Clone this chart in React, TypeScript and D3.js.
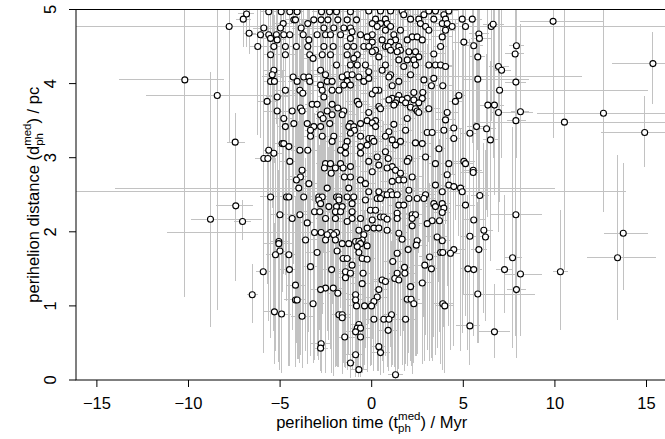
import { useEffect, useRef } from "react";
import * as d3 from "d3";

// perihelion time / Myr, perihelion distance / pc
// dense core: [t, d, t half-width, d below, d above]
const coreStars = [
  [-5.62, 4.97, 0.5, 1.2, 0.8], [-4.94, 4.97, 0.4, 0.9, 0.7], [-4.47, 4.97, 0.6, 1.6, 0.9], [-4.07, 4.97, 0.3, 1.1, 0.6],
  [-2.74, 4.97, 0.5, 2.0, 1.0], [-2.3, 4.97, 0.7, 1.4, 0.8], [-1.92, 4.97, 0.4, 2.3, 0.9], [-1.16, 4.97, 0.6, 1.7, 1.1],
  [-4.25, 4.86, 0.5, 1.5, 1.0], [-4.16, 4.86, 0.4, 2.1, 0.8], [-3.16, 4.86, 0.8, 1.3, 1.2], [-2.76, 4.86, 0.3, 1.8, 0.9],
  [-2.39, 4.86, 0.5, 2.4, 1.0], [-1.85, 4.86, 0.6, 1.2, 0.7], [-1.34, 4.86, 0.4, 1.9, 1.3], [-0.83, 4.86, 0.7, 1.5, 0.8],
  [-4.83, 4.81, 0.5, 1.7, 0.9], [-3.49, 4.81, 0.4, 2.2, 1.0], [-5.89, 4.75, 0.6, 1.1, 0.8], [-4.98, 4.75, 0.3, 1.6, 0.9],
  [-3.85, 4.75, 0.5, 2.5, 1.2], [-2.61, 4.75, 0.9, 1.4, 0.7], [-2.07, 4.75, 0.4, 2.0, 1.1], [-1.52, 4.75, 0.5, 1.3, 0.9],
  [-1.16, 4.75, 0.6, 2.2, 1.0], [-1.07, 4.7, 0.4, 1.8, 0.8], [-6.07, 4.66, 0.5, 1.4, 0.9], [-5.62, 4.66, 0.4, 2.1, 1.0],
  [-5.2, 4.66, 0.7, 1.2, 0.8], [-4.8, 4.66, 0.5, 1.9, 1.1], [-4.47, 4.66, 0.3, 2.4, 0.9], [-3.74, 4.66, 0.6, 1.5, 1.2],
  [-2.98, 4.66, 0.4, 2.0, 0.8], [-2.52, 4.66, 0.5, 1.1, 1.0], [-2.25, 4.66, 0.8, 2.6, 0.9], [-1.7, 4.66, 0.4, 1.6, 1.3],
  [-0.61, 4.66, 0.5, 2.3, 0.8], [-5.52, 4.61, 0.6, 1.3, 1.0], [-1.16, 4.61, 0.4, 1.8, 0.9], [-5.16, 4.59, 0.5, 2.2, 1.1],
  [-3.43, 4.59, 0.3, 1.5, 0.8], [-6.22, 4.5, 0.5, 1.2, 0.9], [-5.34, 4.5, 0.6, 2.0, 1.0], [-4.71, 4.5, 0.4, 1.7, 1.2],
  [-4.11, 4.5, 0.7, 2.4, 0.8], [-3.49, 4.5, 0.5, 1.3, 1.1], [-2.61, 4.5, 0.4, 2.1, 0.9], [-2.1, 4.5, 0.6, 1.6, 1.0],
  [-1.34, 4.5, 0.3, 2.5, 1.3], [-0.98, 4.5, 0.5, 1.4, 0.8], [-0.43, 4.5, 0.8, 1.9, 1.0], [-5.52, 4.39, 0.4, 1.8, 0.9],
  [-4.71, 4.39, 0.5, 1.1, 1.1], [-3.38, 4.39, 0.6, 2.3, 0.8], [-2.7, 4.39, 0.4, 1.5, 1.2], [-2.25, 4.39, 0.5, 2.0, 1.0],
  [-1.34, 4.39, 0.7, 1.7, 0.9], [-0.79, 4.39, 0.4, 2.2, 1.1], [-3.2, 4.34, 0.5, 1.4, 0.8], [-0.98, 4.34, 0.6, 1.9, 1.0],
  [-1.92, 4.25, 0.4, 1.6, 1.2], [-1.16, 4.25, 0.5, 2.4, 0.9], [-0.79, 4.25, 0.3, 1.3, 1.0], [-5.34, 4.18, 0.6, 2.0, 1.1],
  [-2.79, 4.18, 0.5, 1.5, 0.8], [-5.43, 4.12, 0.4, 1.8, 1.2], [-2.52, 4.12, 0.7, 2.2, 0.9], [-1.34, 4.12, 0.5, 1.2, 1.0],
  [-1.07, 4.12, 0.4, 2.5, 1.3], [-4.29, 4.09, 0.6, 1.6, 0.9], [-3.71, 4.09, 0.5, 2.0, 1.1], [-3.43, 4.09, 0.3, 1.4, 0.8],
  [-1.61, 4.09, 0.5, 2.3, 1.0], [-5.52, 4.03, 0.4, 1.7, 1.2], [-5.31, 4.03, 0.6, 1.1, 0.9], [-4.07, 4.03, 0.5, 2.4, 1.0],
  [-3.38, 4.03, 0.4, 1.9, 1.1], [-2.43, 4.03, 0.8, 1.5, 0.8], [-2.16, 4.03, 0.5, 2.1, 1.2], [-1.34, 4.03, 0.4, 1.3, 0.9],
  [-0.43, 4.03, 0.6, 2.6, 1.0], [-2.79, 3.98, 0.5, 1.8, 1.1], [-1.52, 3.98, 0.3, 2.2, 0.8], [-1.16, 3.98, 0.5, 1.4, 1.3],
  [-4.71, 3.91, 0.6, 2.0, 0.9], [-3.92, 3.91, 0.4, 1.6, 1.0], [-2.7, 3.91, 0.5, 2.5, 1.2], [-2.16, 3.91, 0.7, 1.2, 0.8],
  [-1.79, 3.91, 0.4, 1.9, 1.1], [-3.76, 3.87, 0.5, 2.3, 1.0], [-5.16, 3.82, 0.6, 1.5, 0.9], [-2.61, 3.82, 0.4, 2.1, 1.2],
  [-5.71, 3.76, 0.5, 1.8, 1.0], [-0.79, 3.76, 0.6, 2.4, 0.8], [-3.25, 3.72, 0.4, 1.3, 1.1], [-2.98, 3.72, 0.5, 2.0, 0.9],
  [-2.16, 3.72, 0.3, 1.7, 1.3], [-0.7, 3.72, 0.6, 2.2, 1.0], [-3.89, 3.67, 0.5, 1.4, 0.8], [-1.85, 3.67, 0.4, 2.6, 1.2],
  [-5.16, 3.63, 0.7, 1.9, 0.9], [-4.34, 3.63, 0.5, 1.2, 1.0], [-3.8, 3.63, 0.4, 2.3, 1.1], [-2.43, 3.63, 0.6, 1.6, 0.8],
  [-1.52, 3.63, 0.5, 2.0, 1.3], [-2.79, 3.58, 0.4, 1.8, 0.9], [-2.16, 3.58, 0.5, 2.5, 1.0], [-1.61, 3.58, 0.8, 1.3, 1.1],
  [-4.8, 3.53, 0.5, 2.1, 0.8], [-2.65, 3.53, 0.4, 1.5, 1.2], [-4.25, 3.46, 0.6, 1.9, 1.0], [-3.52, 3.46, 0.5, 2.4, 0.9],
  [-2.29, 3.46, 0.4, 1.2, 1.1], [-1.16, 3.46, 0.5, 2.2, 0.8], [-0.61, 3.46, 0.7, 1.7, 1.3], [-4.71, 3.42, 0.4, 2.0, 1.0],
  [-3.16, 3.42, 0.5, 1.4, 0.9], [-2.79, 3.42, 0.6, 2.6, 1.1], [-1.25, 3.42, 0.4, 1.8, 1.2], [-0.98, 3.42, 0.5, 1.1, 0.8],
  [-3.34, 3.37, 0.3, 2.3, 1.0], [-0.94, 3.37, 0.6, 1.6, 1.1], [-1.16, 3.33, 0.5, 2.1, 0.9], [-3.34, 3.29, 0.4, 1.5, 1.3],
  [-2.7, 3.29, 0.6, 2.4, 1.0], [-2.07, 3.29, 0.5, 1.9, 0.8], [-0.61, 3.29, 0.4, 1.3, 1.2], [-2.16, 3.22, 0.5, 2.2, 1.1],
  [-1.34, 3.22, 0.7, 1.7, 0.9], [-4.89, 3.19, 0.4, 2.0, 1.0], [-4.8, 3.19, 0.5, 1.4, 1.2], [-4.52, 3.15, 0.6, 2.5, 0.8],
  [-1.43, 3.15, 0.4, 1.8, 1.1], [-0.61, 3.15, 0.5, 1.2, 1.0], [-5.62, 3.1, 0.3, 2.3, 0.9], [-3.92, 3.1, 0.5, 1.6, 1.3],
  [-3.49, 3.1, 0.6, 2.1, 1.0], [-1.7, 3.1, 0.4, 1.5, 1.2], [-5.34, 3.06, 0.5, 2.4, 0.8], [-1.43, 3.06, 0.4, 1.9, 1.1],
  [-0.61, 3.06, 0.6, 1.3, 1.0], [-5.89, 2.99, 0.5, 2.2, 1.2], [-5.67, 2.99, 0.4, 1.7, 0.9], [-4.47, 2.95, 0.6, 2.0, 1.1],
  [-2.52, 2.92, 0.5, 1.4, 1.0], [-2.25, 2.92, 0.4, 2.5, 0.8], [-1.7, 2.92, 0.7, 1.8, 1.3], [-1.16, 2.88, 0.5, 2.1, 0.9],
  [-2.58, 2.86, 0.4, 1.6, 1.2], [-1.98, 2.86, 0.5, 2.3, 1.0], [-1.56, 2.86, 0.6, 1.2, 1.1], [-3.8, 2.83, 0.4, 2.0, 0.8],
  [-2.21, 2.79, 0.5, 1.5, 1.2], [-3.89, 2.74, 0.6, 2.4, 1.0], [-1.49, 2.74, 0.4, 1.9, 0.9], [-1.16, 2.74, 0.5, 1.3, 1.3],
  [-4.11, 2.7, 0.5, 2.2, 1.1], [-0.61, 2.7, 0.4, 1.7, 0.8], [-3.43, 2.65, 0.6, 2.0, 1.0], [-0.34, 2.65, 0.5, 1.4, 1.2],
  [-3.98, 2.59, 0.4, 2.3, 0.9], [-1.25, 2.59, 0.5, 1.8, 1.1],
  [-5.52, 2.47, 0.6, 1.9, 1.2], [-4.65, 2.47, 0.4, 1.4, 1.0], [-4.52, 2.47, 0.5, 2.1, 0.8], [-3.71, 2.47, 0.7, 1.6, 1.3],
  [-2.89, 2.47, 0.4, 2.2, 1.1], [-2.7, 2.47, 0.5, 1.3, 0.9], [-1.92, 2.47, 0.6, 2.0, 1.2], [-1.79, 2.47, 0.4, 1.7, 1.0],
  [-1.34, 2.47, 0.5, 2.3, 0.8], [-0.98, 2.47, 0.3, 1.5, 1.1], [-2.89, 2.43, 0.5, 1.9, 1.3], [-1.79, 2.43, 0.6, 2.2, 0.9],
  [-2.79, 2.38, 0.4, 1.4, 1.0], [-1.07, 2.38, 0.5, 2.0, 1.2], [-2.34, 2.34, 0.6, 1.8, 0.8], [-1.92, 2.34, 0.4, 2.1, 1.1],
  [-1.61, 2.34, 0.5, 1.5, 1.0], [-3.12, 2.27, 0.7, 2.0, 1.3], [-2.83, 2.27, 0.4, 1.6, 0.9], [-1.98, 2.27, 0.5, 2.1, 1.2],
  [-1.7, 2.27, 0.6, 1.3, 1.0], [-1.07, 2.27, 0.4, 1.9, 1.1], [-5.01, 2.23, 0.5, 1.7, 1.4], [-3.92, 2.23, 0.6, 2.0, 0.9],
  [-4.34, 2.18, 0.4, 1.5, 1.2], [-2.52, 2.18, 0.5, 2.0, 1.0], [-1.98, 2.18, 0.7, 1.8, 1.3], [-1.07, 2.18, 0.4, 1.4, 0.8],
  [-0.61, 2.18, 0.5, 2.0, 1.1], [-1.34, 2.14, 0.6, 1.6, 1.2], [-3.52, 2.12, 0.4, 1.9, 1.0], [-0.7, 2.02, 0.5, 1.5, 1.3],
  [-2.76, 1.99, 0.6, 1.7, 1.1], [-2.25, 1.99, 0.4, 1.4, 0.9], [-1.92, 1.99, 0.5, 1.8, 1.2], [-2.43, 1.96, 0.7, 1.3, 1.0],
  [-2.07, 1.96, 0.4, 1.9, 1.4], [-0.43, 1.96, 0.5, 1.6, 0.8], [-3.61, 1.89, 0.6, 1.5, 1.1], [-2.52, 1.89, 0.4, 1.8, 1.3],
  [-1.98, 1.89, 0.5, 1.2, 1.0], [-0.52, 1.89, 0.3, 1.7, 1.2], [-5.07, 1.87, 0.5, 1.4, 0.9], [-0.88, 1.87, 0.6, 1.8, 1.1],
  [-0.7, 1.87, 0.4, 1.3, 1.4], [-5.07, 1.84, 0.8, 1.6, 1.0], [-1.61, 1.84, 0.5, 1.7, 1.2], [-1.25, 1.84, 0.4, 1.5, 0.9],
  [-0.61, 1.84, 0.6, 1.8, 1.1], [-0.79, 1.8, 0.5, 1.4, 1.3], [-5.01, 1.74, 0.4, 1.6, 1.0], [-1.89, 1.74, 0.5, 1.5, 1.2],
  [-2.98, 1.72, 0.6, 1.4, 0.9], [-0.7, 1.72, 0.4, 1.6, 1.1], [-5.25, 1.69, 0.5, 1.3, 1.3], [-4.52, 1.69, 0.6, 1.5, 1.0],
  [-1.56, 1.64, 0.4, 1.4, 1.2], [-1.34, 1.64, 0.5, 1.5, 0.9], [-0.52, 1.64, 0.7, 1.3, 1.1], [-1.07, 1.55, 0.5, 1.4, 1.0],
  [-3.34, 1.53, 0.4, 1.2, 1.3], [-4.49, 1.49, 0.6, 1.3, 0.9], [-2.19, 1.49, 0.5, 1.4, 1.2], [-5.92, 1.46, 0.4, 1.1, 1.0],
  [-1.43, 1.46, 0.5, 1.3, 1.1], [-1.16, 1.44, 0.6, 1.2, 0.9], [-0.47, 1.44, 0.4, 1.3, 1.3], [-1.43, 1.38, 0.5, 1.1, 1.0],
  [-0.52, 1.3, 0.6, 1.2, 1.1], [-4.16, 1.28, 0.5, 1.0, 1.2], [-2.52, 1.24, 0.4, 1.1, 0.9], [-2.1, 1.24, 0.5, 1.0, 1.3],
  [-2.79, 1.22, 0.6, 1.1, 1.0], [-1.85, 1.17, 0.5, 1.0, 1.2], [-0.88, 1.15, 0.4, 1.0, 1.1], [-4.16, 1.08, 0.6, 0.9, 1.0],
  [-4.07, 1.08, 0.4, 0.8, 1.3], [-0.88, 1.08, 0.5, 0.9, 1.2], [-3.2, 1.03, 0.6, 0.8, 1.0], [-0.83, 1.0, 0.5, 0.9, 1.1],
  [-0.39, 1.0, 0.4, 0.8, 1.3], [-5.31, 0.92, 0.6, 0.7, 1.2], [-4.92, 0.89, 0.5, 0.8, 1.0], [-1.79, 0.88, 0.4, 0.7, 1.2],
  [-1.61, 0.88, 0.5, 0.8, 1.0], [-3.8, 0.86, 0.6, 0.7, 1.1], [-1.61, 0.84, 0.4, 0.7, 1.3], [-0.7, 0.75, 0.5, 0.6, 1.2],
  [-0.79, 0.7, 0.4, 0.6, 1.0], [-0.61, 0.7, 0.6, 0.5, 1.3], [-0.88, 0.65, 0.5, 0.5, 1.1], [-1.47, 0.58, 0.4, 0.4, 1.2],
  [-0.61, 0.58, 0.5, 0.5, 1.0], [-2.76, 0.49, 0.6, 0.4, 1.1], [-2.79, 0.43, 0.4, 0.3, 1.3], [-0.88, 0.34, 0.5, 0.3, 1.0],
  [-1.16, 0.23, 0.4, 0.2, 1.1], [-0.7, 0.14, 0.5, 0.1, 1.0],
  [-0.16, 4.98, 0.5, 1.6, 0.9], [0.48, 4.98, 0.4, 2.2, 1.0], [1.03, 4.98, 0.6, 1.3, 0.8], [1.66, 4.98, 0.5, 1.9, 1.1],
  [3.12, 4.98, 0.4, 2.4, 0.9], [3.48, 4.98, 0.7, 1.5, 1.0], [4.21, 4.98, 0.5, 2.0, 1.2], [1.75, 4.93, 0.4, 1.7, 0.8],
  [2.85, 4.93, 0.6, 2.3, 1.0], [3.94, 4.93, 0.5, 1.2, 0.9], [0.21, 4.87, 0.4, 2.1, 1.1], [0.75, 4.87, 0.5, 1.5, 1.0],
  [2.12, 4.87, 0.6, 2.5, 0.8], [2.57, 4.87, 0.4, 1.8, 1.2], [3.39, 4.87, 0.5, 1.4, 0.9], [4.03, 4.87, 0.8, 2.2, 1.0],
  [4.94, 4.87, 0.5, 1.6, 1.1], [0.03, 4.81, 0.4, 2.0, 0.9], [0.48, 4.81, 0.6, 1.3, 1.0], [0.84, 4.81, 0.5, 2.4, 1.2],
  [2.66, 4.81, 0.4, 1.7, 0.8], [3.85, 4.81, 0.5, 2.1, 1.0], [4.12, 4.81, 0.6, 1.4, 1.1], [0.3, 4.77, 0.5, 1.9, 0.9],
  [1.03, 4.77, 0.4, 2.3, 1.2], [2.94, 4.77, 0.7, 1.5, 1.0], [4.39, 4.77, 0.5, 2.0, 0.8], [5.12, 4.77, 0.4, 1.6, 1.1],
  [0.75, 4.72, 0.5, 2.2, 1.0], [1.57, 4.72, 0.6, 1.4, 0.9], [3.12, 4.72, 0.4, 1.8, 1.2], [4.03, 4.72, 0.5, 2.5, 1.0],
  [0.03, 4.66, 0.6, 1.7, 0.8], [1.21, 4.66, 0.4, 2.1, 1.1], [-0.25, 4.63, 0.5, 1.3, 1.0], [2.21, 4.63, 0.5, 2.4, 0.9],
  [2.48, 4.63, 0.4, 1.6, 1.2], [3.85, 4.63, 0.6, 2.0, 1.0], [0.57, 4.59, 0.5, 1.5, 0.8], [1.3, 4.59, 0.4, 2.2, 1.1],
  [1.94, 4.59, 0.7, 1.9, 1.0], [2.76, 4.59, 0.5, 1.2, 0.9], [0.03, 4.56, 0.4, 2.3, 1.2], [1.03, 4.56, 0.5, 1.7, 1.0],
  [5.03, 4.56, 0.6, 2.0, 0.8], [-0.16, 4.5, 0.5, 1.4, 1.1], [0.75, 4.5, 0.4, 2.1, 1.0], [0.9, 4.5, 0.6, 1.8, 0.9],
  [1.48, 4.5, 0.5, 2.5, 1.2], [3.76, 4.5, 0.4, 1.3, 1.0], [0.21, 4.45, 0.5, 2.0, 0.8], [1.03, 4.45, 0.6, 1.6, 1.1],
  [1.57, 4.45, 0.4, 2.3, 1.0], [0.03, 4.43, 0.5, 1.5, 0.9], [1.39, 4.43, 0.7, 2.1, 1.2], [2.03, 4.43, 0.4, 1.8, 1.0],
  [2.39, 4.43, 0.5, 1.2, 0.8], [3.39, 4.4, 0.6, 2.4, 1.1], [0.39, 4.36, 0.5, 1.7, 1.0], [2.57, 4.36, 0.4, 2.0, 0.9],
  [1.48, 4.32, 0.5, 1.4, 1.2], [1.94, 4.32, 0.6, 2.2, 1.0], [2.3, 4.32, 0.4, 1.9, 0.8], [-0.34, 4.25, 0.5, 1.6, 1.1],
  [0.75, 4.25, 0.4, 2.3, 1.0], [2.39, 4.25, 0.6, 1.3, 0.9], [3.12, 4.25, 0.5, 2.0, 1.2], [3.48, 4.25, 0.4, 1.7, 1.0],
  [3.76, 4.25, 0.7, 2.5, 0.8], [1.75, 4.23, 0.5, 1.5, 1.1], [4.03, 4.23, 0.4, 2.1, 1.0], [0.57, 4.18, 0.5, 1.8, 0.9],
  [-0.16, 4.16, 0.6, 2.2, 1.2], [1.03, 4.12, 0.4, 1.4, 1.0], [2.12, 4.12, 0.5, 2.0, 0.8], [0.94, 4.09, 0.6, 1.7, 1.1],
  [-0.16, 4.07, 0.5, 1.3, 1.0], [3.39, 4.07, 0.4, 2.4, 0.9], [2.85, 4.05, 0.5, 1.9, 1.2], [1.48, 4.03, 0.6, 1.5, 1.0],
  [1.12, 3.97, 0.4, 2.2, 0.8], [3.26, 3.97, 0.5, 1.6, 1.1], [3.88, 3.97, 0.6, 2.0, 1.0], [0.39, 3.91, 0.4, 1.8, 1.2],
  [2.3, 3.88, 0.5, 2.3, 1.0], [2.79, 3.88, 0.4, 1.4, 0.9], [0.03, 3.86, 0.6, 2.1, 1.1], [1.48, 3.84, 0.5, 1.7, 1.0],
  [4.76, 3.84, 0.4, 1.9, 1.2], [1.12, 3.8, 0.5, 2.4, 0.8], [1.94, 3.8, 0.6, 1.5, 1.1], [2.76, 3.8, 0.4, 2.0, 1.0],
  [0.94, 3.78, 0.5, 1.3, 0.9], [1.39, 3.78, 0.4, 2.2, 1.2], [1.66, 3.78, 0.6, 1.8, 1.0], [2.3, 3.78, 0.5, 2.5, 0.8],
  [4.57, 3.76, 0.4, 1.6, 1.1], [1.3, 3.74, 0.5, 2.1, 1.0], [1.85, 3.74, 0.7, 1.4, 0.9], [2.57, 3.74, 0.4, 1.9, 1.2],
  [1.21, 3.71, 0.5, 2.3, 1.0], [0.39, 3.69, 0.6, 1.7, 0.8], [2.12, 3.68, 0.4, 2.0, 1.1], [0.48, 3.66, 0.5, 1.5, 1.0],
  [2.39, 3.66, 0.4, 2.4, 0.9], [3.12, 3.66, 0.6, 1.8, 1.2], [2.48, 3.63, 0.5, 1.3, 1.0], [-0.16, 3.61, 0.4, 2.2, 0.8],
  [2.57, 3.61, 0.5, 1.9, 1.1], [4.12, 3.61, 0.6, 1.6, 1.0], [1.94, 3.53, 0.4, 2.1, 0.9], [4.03, 3.51, 0.5, 1.4, 1.2],
  [-0.25, 3.5, 0.6, 2.0, 1.0], [0.21, 3.5, 0.4, 1.7, 0.8], [0.03, 3.47, 0.5, 2.3, 1.1], [1.21, 3.45, 0.6, 1.5, 1.0],
  [0.21, 3.42, 0.4, 1.9, 1.2], [4.48, 3.4, 0.5, 2.2, 0.9], [1.85, 3.37, 0.4, 1.6, 1.0], [3.94, 3.37, 0.6, 2.0, 1.1],
  [0.94, 3.35, 0.5, 1.4, 0.8], [3.03, 3.34, 0.4, 2.4, 1.2], [3.3, 3.34, 0.5, 1.8, 1.0], [0.75, 3.29, 0.6, 2.1, 0.9],
  [-0.16, 3.26, 0.4, 1.5, 1.1], [0.03, 3.26, 0.5, 2.0, 1.0], [4.48, 3.26, 0.4, 1.7, 1.2], [1.12, 3.24, 0.6, 2.3, 0.8],
  [0.12, 3.22, 0.5, 1.4, 1.1], [1.57, 3.22, 0.4, 1.9, 1.0], [2.39, 3.2, 0.5, 2.2, 0.9], [2.76, 3.19, 0.6, 1.6, 1.2],
  [-0.25, 3.17, 0.4, 2.0, 1.0], [1.3, 3.17, 0.5, 1.3, 0.8], [3.67, 3.12, 0.4, 1.8, 1.1], [0.75, 3.08, 0.6, 2.1, 1.0],
  [0.3, 3.01, 0.5, 1.5, 1.2], [2.94, 3.01, 0.4, 2.4, 0.9], [0.9, 2.99, 0.5, 1.7, 1.0], [2.03, 2.99, 0.6, 2.0, 1.1],
  [1.94, 2.95, 0.4, 1.4, 0.8], [-0.16, 2.95, 0.5, 2.2, 1.2], [5.03, 2.95, 0.6, 1.8, 1.0], [3.48, 2.92, 0.4, 1.6, 0.9],
  [4.21, 2.92, 0.5, 2.1, 1.1], [5.12, 2.92, 0.4, 1.5, 1.0], [0.39, 2.9, 0.6, 2.3, 1.2], [1.12, 2.88, 0.5, 1.9, 0.8],
  [0.84, 2.86, 0.4, 1.4, 1.1], [1.3, 2.83, 0.5, 2.0, 1.0], [0.03, 2.81, 0.6, 1.7, 0.9], [1.57, 2.79, 0.4, 2.2, 1.2],
  [4.12, 2.77, 0.5, 1.5, 1.0], [2.21, 2.74, 0.6, 1.8, 0.8], [1.48, 2.7, 0.4, 2.1, 1.1], [1.75, 2.7, 0.5, 1.6, 1.0],
  [1.12, 2.68, 0.6, 2.0, 1.2], [3.48, 2.63, 0.4, 1.4, 0.9], [4.21, 2.63, 0.5, 1.9, 1.0], [4.48, 2.61, 0.6, 1.7, 1.1],
  [4.85, 2.59, 0.4, 2.2, 0.8], [2.03, 2.56, 0.5, 1.5, 1.2],
  [0.39, 2.54, 0.5, 1.8, 1.0], [1.03, 2.54, 0.4, 2.1, 1.1], [3.85, 2.54, 0.6, 1.5, 0.9], [4.94, 2.54, 0.5, 1.9, 1.2],
  [0.66, 2.5, 0.4, 1.6, 1.0], [0.84, 2.5, 0.5, 2.2, 0.8], [1.12, 2.5, 0.6, 1.4, 1.1], [1.39, 2.5, 0.4, 2.0, 1.0],
  [2.94, 2.5, 0.5, 1.7, 1.2], [0.3, 2.45, 0.6, 2.3, 0.9], [0.48, 2.45, 0.4, 1.5, 1.0], [2.03, 2.45, 0.5, 1.9, 1.1],
  [2.48, 2.45, 0.4, 2.1, 0.8], [2.85, 2.45, 0.6, 1.6, 1.2], [-0.34, 2.43, 0.5, 2.0, 1.0], [3.39, 2.38, 0.4, 1.8, 0.9],
  [3.85, 2.38, 0.5, 1.4, 1.1], [1.48, 2.36, 0.6, 2.2, 1.0], [1.75, 2.36, 0.4, 1.7, 1.2], [5.12, 2.36, 0.5, 1.5, 0.8],
  [3.48, 2.34, 0.6, 2.0, 1.1], [3.94, 2.32, 0.4, 1.6, 1.0], [-0.07, 2.29, 0.5, 2.1, 0.9], [0.21, 2.29, 0.4, 1.8, 1.2],
  [3.85, 2.26, 0.5, 1.3, 1.0], [1.39, 2.25, 0.6, 2.0, 1.1], [2.21, 2.23, 0.4, 1.7, 0.8], [2.39, 2.23, 0.5, 1.9, 1.2],
  [0.48, 2.2, 0.6, 1.5, 1.0], [0.66, 2.2, 0.4, 2.1, 0.9], [1.39, 2.18, 0.5, 1.8, 1.1], [2.21, 2.18, 0.4, 1.4, 1.0],
  [0.84, 2.17, 0.6, 2.0, 1.2], [0.03, 2.16, 0.5, 1.6, 0.9], [3.3, 2.15, 0.4, 1.9, 1.0], [3.7, 2.15, 0.5, 1.5, 1.1],
  [3.03, 2.11, 0.6, 1.7, 1.2], [2.21, 2.08, 0.4, 2.0, 0.8], [-0.25, 2.05, 0.5, 1.8, 1.0], [0.12, 2.05, 0.6, 1.4, 1.1],
  [0.39, 2.05, 0.4, 1.9, 1.0], [0.84, 2.02, 0.5, 1.6, 1.2], [1.48, 1.98, 0.4, 1.8, 0.9], [3.57, 1.93, 0.6, 1.5, 1.0],
  [1.66, 1.9, 0.5, 1.7, 1.1], [2.48, 1.88, 0.4, 1.4, 1.2], [3.85, 1.88, 0.5, 1.6, 1.0], [2.43, 1.82, 0.6, 1.5, 0.9],
  [-0.25, 1.81, 0.4, 1.7, 1.1], [1.99, 1.76, 0.5, 1.4, 1.0], [4.48, 1.76, 0.6, 1.3, 1.2], [3.76, 1.72, 0.4, 1.5, 1.0],
  [3.88, 1.72, 0.5, 1.2, 1.1], [1.39, 1.71, 0.4, 1.6, 0.9], [4.3, 1.71, 0.5, 1.3, 1.2], [3.16, 1.66, 0.6, 1.4, 1.0],
  [-0.25, 1.63, 0.4, 1.5, 1.1], [1.15, 1.6, 0.5, 1.4, 1.2], [2.9, 1.55, 0.6, 1.3, 1.0], [1.79, 1.52, 0.4, 1.4, 1.1],
  [3.26, 1.5, 0.5, 1.2, 1.3], [5.25, 1.5, 0.4, 1.1, 1.0], [1.39, 1.44, 0.5, 1.3, 1.1], [1.81, 1.44, 0.6, 1.2, 0.9],
  [1.26, 1.37, 0.4, 1.2, 1.2], [0.57, 1.35, 0.5, 1.1, 1.0], [1.48, 1.35, 0.4, 1.2, 1.1], [0.75, 1.33, 0.6, 1.0, 1.3],
  [2.76, 1.31, 0.5, 1.1, 1.0], [2.12, 1.26, 0.4, 1.0, 1.2], [0.39, 1.22, 0.5, 1.1, 0.9], [0.3, 1.12, 0.6, 1.0, 1.1],
  [1.94, 1.09, 0.4, 0.9, 1.2], [2.15, 1.09, 0.5, 0.9, 1.0], [0.12, 1.06, 0.4, 0.9, 1.3], [2.3, 1.03, 0.5, 0.8, 1.1],
  [3.88, 1.03, 0.6, 0.9, 1.0], [-0.01, 1.0, 0.4, 0.8, 1.2], [3.99, 1.0, 0.5, 0.9, 1.1], [1.08, 0.88, 0.4, 0.7, 1.0],
  [0.12, 0.82, 0.5, 0.7, 1.2], [0.66, 0.82, 0.6, 0.6, 1.1], [0.94, 0.82, 0.4, 0.7, 1.0], [1.85, 0.82, 0.5, 0.6, 1.3],
  [0.9, 0.67, 0.6, 0.5, 1.1], [0.39, 0.45, 0.4, 0.3, 1.0], [0.48, 0.37, 0.5, 0.3, 1.2], [1.3, 0.07, 0.4, 0.05, 0.9],
];

// stars whose bars can be read individually: [t, d, tLo, tHi, dLo, dHi]
const outerStars = [
  [-6.83, 4.94, -7.3, -6.4, 4.5, 5.3], [-7.01, 4.87, -7.4, -6.6, 4.5, 5.3], [-7.78, 4.77, -17, 17, 3.2, 5.3],
  [-6.69, 4.68, -7.0, -6.3, 4.4, 5.3], [-10.2, 4.05, -13.8, -8.05, 1.12, 5.3], [-8.43, 3.84, -12.3, -4.0, 0.95, 5.3],
  [-7.45, 3.21, -7.9, -6.9, 1.33, 3.6], [-7.42, 2.35, -8.51, -6.47, 2.0, 2.8], [-8.8, 2.17, -9.87, -6.0, 0.72, 4.15],
  [-7.05, 2.14, -7.5, -6.6, 1.89, 2.43], [-6.52, 1.15, -6.8, -6.2, 0.77, 1.57],
  [-0.7, 4.09, -6.0, 11.5, 2.8, 5.3], [0.21, 3.91, -3.5, 15.1, 2.4, 5.3], [-2.43, 2.59, -14.0, 10.0, 1.2, 4.0],
  [-0.16, 2.54, -17, 13.9, 1.0, 4.2], [-3.12, 1.99, -11.2, 2.0, 0.6, 3.6],
  [5.49, 4.87, 5.0, 6.0, 3.2, 5.3], [6.52, 4.77, 6.0, 7.1, 3.5, 5.3], [6.63, 4.8, 6.1, 7.2, 3.0, 5.3],
  [9.9, 4.84, 8.1, 12.6, 3.26, 5.3], [5.85, 4.67, 5.3, 6.4, 2.8, 5.3], [5.88, 4.61, 5.4, 6.5, 3.4, 5.3],
  [5.57, 4.51, 5.0, 6.1, 2.9, 5.3], [7.9, 4.51, 7.5, 8.3, 3.0, 5.3], [7.83, 4.4, 7.3, 8.3, 2.5, 5.3],
  [5.79, 4.36, 5.3, 6.2, 3.3, 5.3], [15.35, 4.27, 13.1, 17, 3.73, 4.69], [6.92, 4.23, 6.4, 7.5, 2.8, 5.3],
  [7.09, 4.18, 6.6, 7.6, 3.0, 5.3], [5.79, 4.06, 5.0, 8.6, 3.1, 5.3], [7.87, 4.02, 7.3, 8.4, 2.0, 5.3],
  [6.98, 3.91, 6.5, 7.5, 2.4, 5.1], [6.34, 3.71, 5.9, 6.8, 2.2, 5.0], [6.7, 3.71, 6.2, 7.2, 2.5, 5.1],
  [6.92, 3.61, 6.5, 8.8, 2.0, 4.6], [8.12, 3.62, 7.6, 8.6, 2.4, 4.8], [7.87, 3.5, 7.4, 8.4, 1.4, 4.9],
  [10.52, 3.48, 5.5, 17, 1.48, 5.3], [12.65, 3.6, 9.03, 17, 2.27, 5.3], [14.9, 3.34, 12.5, 17, 2.88, 3.83],
  [5.72, 3.42, 5.2, 6.2, 1.8, 4.7], [5.36, 3.33, 4.8, 5.9, 2.1, 4.6], [6.27, 3.39, 5.8, 6.8, 2.3, 4.4],
  [6.48, 3.24, 6.1, 6.9, 1.6, 4.3], [5.54, 2.83, 5.0, 6.0, 1.3, 4.2], [5.54, 2.8, 4.9, 6.1, 1.8, 3.9],
  [5.9, 2.49, 5.4, 6.4, 1.2, 3.8], [5.57, 2.16, 5.0, 6.2, 0.9, 3.5], [7.87, 2.23, 6.5, 9.3, 0.6, 3.4],
  [6.12, 2.02, 5.7, 6.6, 0.9, 3.2], [6.21, 1.93, 5.8, 6.5, 0.8, 3.1], [5.36, 1.94, 4.8, 5.9, 0.7, 3.3],
  [5.85, 1.76, 5.4, 6.3, 0.5, 2.8], [13.73, 1.98, 12.7, 15.1, 1.21, 2.93], [13.42, 1.65, 11.76, 15.5, 0.81, 3.04],
  [7.69, 1.65, 7.2, 8.2, 0.43, 3.42], [5.57, 1.49, 5.1, 6.0, 0.6, 2.9], [7.25, 1.49, 6.8, 7.7, 0.9, 2.5],
  [8.12, 1.43, 7.3, 9.3, 0.6, 2.8], [10.3, 1.46, 9.9, 10.7, 0.67, 2.29], [5.79, 1.16, 5.0, 8.94, 0.5, 2.4],
  [7.9, 1.22, 7.4, 8.4, 0.3, 2.2], [5.36, 0.73, 4.6, 5.9, 0.2, 1.9], [6.7, 0.65, 5.84, 7.53, 0.3, 1.3],
];

const xTicks = [-15, -10, -5, 0, 5, 10, 15];
const yTicks = [0, 1, 2, 3, 4, 5];

const FONT = "'Liberation Sans', Arial, Helvetica, sans-serif";
const FONT_SIZE = 16.5;

export default function App() {
  const svgRef = useRef(null);

  useEffect(() => {
    const width = 665,
      height = 439;
    const plot = { left: 76, right: 667.4, top: 9.5, bottom: 380 };

    const svg = d3.select(svgRef.current).attr("width", width).attr("height", height);
    svg.selectAll("*").remove();

    const xScale = d3.scaleLinear().domain([-16.14, 16.14]).range([plot.left, plot.right]);
    const yScale = d3.scaleLinear().domain([0, 5]).range([plot.bottom, plot.top]);

    const stars = [
      ...coreStars.map(([t, d, e, lo, hi]) => ({ t, d, t0: t - e, t1: t + e, d0: d - lo, d1: d + hi })),
      ...outerStars.map(([t, d, t0, t1, d0, d1]) => ({ t, d, t0, t1, d0, d1 })),
    ];

    svg.append("defs")
      .append("clipPath")
      .attr("id", "plot-clip")
      .append("rect")
      .attr("x", plot.left)
      .attr("y", plot.top)
      .attr("width", plot.right - plot.left)
      .attr("height", plot.bottom - plot.top);

    const g = svg.append("g").attr("clip-path", "url(#plot-clip)");

    // error bars
    const bars = g.append("g")
      .attr("stroke", "#c2c2c2")
      .attr("stroke-width", 1)
      .attr("shape-rendering", "crispEdges");
    bars.selectAll(".xerr")
      .data(stars)
      .enter()
      .append("line")
      .attr("x1", (d) => xScale(d.t0))
      .attr("x2", (d) => xScale(d.t1))
      .attr("y1", (d) => yScale(d.d))
      .attr("y2", (d) => yScale(d.d));
    bars.selectAll(".yerr")
      .data(stars)
      .enter()
      .append("line")
      .attr("x1", (d) => xScale(d.t))
      .attr("x2", (d) => xScale(d.t))
      .attr("y1", (d) => yScale(d.d0))
      .attr("y2", (d) => yScale(d.d1));

    // points
    g.append("g")
      .selectAll("circle")
      .data(stars)
      .enter()
      .append("circle")
      .attr("cx", (d) => xScale(d.t))
      .attr("cy", (d) => yScale(d.d))
      .attr("r", 3)
      .attr("fill", "white")
      .attr("stroke", "black")
      .attr("stroke-width", 1.1);

    // box
    svg.append("rect")
      .attr("x", plot.left)
      .attr("y", plot.top)
      .attr("width", plot.right - plot.left)
      .attr("height", plot.bottom - plot.top)
      .attr("fill", "none")
      .attr("stroke", "black")
      .attr("stroke-width", 1);

    // x axis
    const xAxis = svg.append("g").attr("font-family", FONT).attr("font-size", FONT_SIZE);
    xTicks.forEach((v) => {
      xAxis.append("line")
        .attr("x1", xScale(v)).attr("x2", xScale(v))
        .attr("y1", plot.bottom).attr("y2", plot.bottom + 7)
        .attr("stroke", "black");
      xAxis.append("text")
        .attr("x", xScale(v))
        .attr("y", 409)
        .attr("text-anchor", "middle")
        .text(String(v).replace("-", "\u2212"));
    });

    // y axis
    const yAxis = svg.append("g").attr("font-family", FONT).attr("font-size", FONT_SIZE);
    yTicks.forEach((v) => {
      yAxis.append("line")
        .attr("x1", plot.left - 7).attr("x2", plot.left)
        .attr("y1", yScale(v)).attr("y2", yScale(v))
        .attr("stroke", "black");
      yAxis.append("text")
        .attr("transform", `translate(56,${yScale(v)}) rotate(-90)`)
        .attr("text-anchor", "middle")
        .text(String(v));
    });

    // axis titles: main text with a stacked sub/superscript, laid out piece by piece
    const measure = (txt, size) => {
      const tmp = svg.append("text").attr("font-family", FONT).attr("font-size", size).text(txt);
      const w = tmp.node().getComputedTextLength();
      tmp.remove();
      return w;
    };
    const mathTitle = (parent, before, sub, sup, after) => {
      const small = 11.5,
        up = 8,
        down = 4.5;
      const wBefore = measure(before, FONT_SIZE);
      const wSup = measure(sup, small);
      const wSub = measure(sub, small);
      const wAfter = measure(after, FONT_SIZE);
      const total = wBefore + Math.max(wSup, wSub) + wAfter;
      const x0 = -total / 2;
      const piece = (txt, x, y, size) =>
        parent.append("text")
          .attr("font-family", FONT)
          .attr("font-size", size)
          .attr("x", x)
          .attr("y", y)
          .text(txt);
      piece(before, x0, 0, FONT_SIZE);
      piece(sup, x0 + wBefore, -up, small);
      piece(sub, x0 + wBefore, down, small);
      piece(after, x0 + wBefore + Math.max(wSup, wSub), 0, FONT_SIZE);
    };

    const xTitle = svg.append("g").attr("transform", `translate(${(plot.left + plot.right) / 2},427.5)`);
    mathTitle(xTitle, "perihelion time (t", "ph", "med", ") / Myr");

    const yTitle = svg.append("g")
      .attr("transform", `translate(38.5,${(plot.top + plot.bottom) / 2}) rotate(-90)`);
    mathTitle(yTitle, "perihelion distance (d", "ph", "med", ") / pc");

    return () => {
      d3.select(svgRef.current).selectAll("*").remove();
    };
  }, []);

  return (
    <div style={{ position: "absolute", left: 0, top: 0 }}>
      <svg ref={svgRef} style={{ display: "block", background: "white" }}></svg>
    </div>
  );
}
